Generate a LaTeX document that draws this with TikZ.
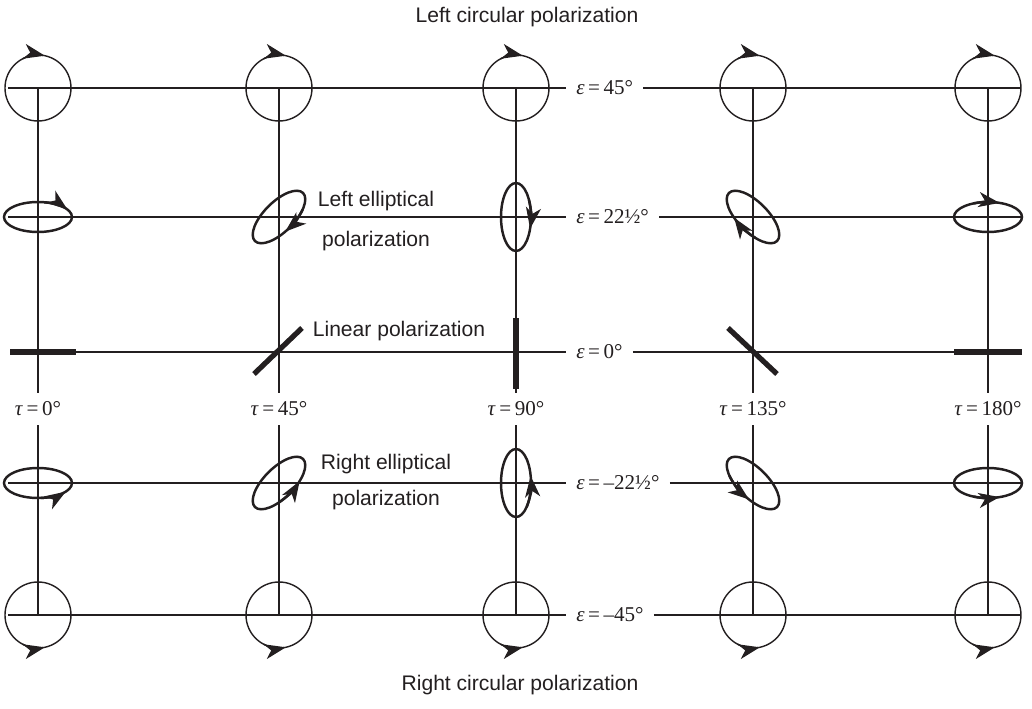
\documentclass[tikz,border=0pt]{standalone}
\usepackage{fontspec}
\setmainfont{Liberation Serif}
\setsansfont{Liberation Sans}
\usepackage{tikz}
\usetikzlibrary{arrows.meta}

\definecolor{ink}{RGB}{35, 31, 32}

\tikzset{
  gridline/.style={draw=ink, line width=0.7pt},
  circpol/.style={draw=ink, line width=0.8pt},
  ellpol/.style={draw=ink, line width=1.4pt},
  linpol/.style={draw=ink, line width=3pt},
  spin/.style={-{Stealth[length=0.42cm, width=0.3cm, inset=0.12cm]}},
  anglelabel/.style={text=ink, inner sep=0pt, font=\fontsize{12}{14}\selectfont},
  epslabel/.style={anglelabel, anchor=west, inner xsep=0.2cm},
  taulabel/.style={anglelabel, minimum height=0.64cm},
  polnote/.style={text=ink, align=center, font=\sffamily\fontsize{12}{14}\selectfont},
  pics/polcirc/.style 2 args={code={
    \draw[circpol] (0,0) circle [radius=33];
    \draw[circpol, spin] (#1:33) arc [start angle=#1, end angle=#2, radius=33];
  }},
  pics/polell/.style 2 args={code={
    \draw[ellpol] (0,0) ellipse [x radius=34, y radius=15];
    \draw[ellpol, spin] (#1:34 and 15) arc [start angle=#1, end angle=#2, x radius=34, y radius=15];
  }}
}

\begin{document}
\begin{tikzpicture}[x=0.02cm, y=0.02cm]
  \useasboundingbox (0,0) rectangle (1032,708);

  % Grid points: columns a-e (tau), rows 1-5 (epsilon)
  \coordinate (a1) at (38,620);  \coordinate (b1) at (279,620);  \coordinate (c1) at (516,620);  \coordinate (d1) at (753,620);  \coordinate (e1) at (988,620);
  \coordinate (a2) at (38,491);  \coordinate (b2) at (279,491);  \coordinate (c2) at (516,491);  \coordinate (d2) at (753,491);  \coordinate (e2) at (988,491);
  \coordinate (a3) at (38,356);  \coordinate (b3) at (279,356);  \coordinate (c3) at (516,356);  \coordinate (d3) at (753,356);  \coordinate (e3) at (988,356);
  \coordinate (a4) at (38,225);  \coordinate (b4) at (279,225);  \coordinate (c4) at (516,225);  \coordinate (d4) at (753,225);  \coordinate (e4) at (988,225);
  \coordinate (a5) at (38,93);   \coordinate (b5) at (279,93);   \coordinate (c5) at (516,93);   \coordinate (d5) at (753,93);   \coordinate (e5) at (988,93);

  % Free ends of the epsilon lines
  \coordinate (lft1) at (8,620);  \coordinate (rgt1) at (1021,620);
  \coordinate (lft2) at (8,491);  \coordinate (rgt2) at (1021,491);
  \coordinate (lft3) at (10,356); \coordinate (rgt3) at (1021,356);
  \coordinate (lft4) at (8,225);  \coordinate (rgt4) at (1021,225);
  \coordinate (lft5) at (8,93);   \coordinate (rgt5) at (1021,93);

  % Epsilon labels
  \node[epslabel] (eps1) at (566,620) {\textit{ε}\,=\,45°};
  \node[epslabel] (eps2) at (566,491) {\textit{ε}\,=\,22½°};
  \node[epslabel] (eps3) at (566,356) {\textit{ε}\,=\,0°};
  \node[epslabel] (eps4) at (566,225) {\textit{ε}\,=\,–22½°};
  \node[epslabel] (eps5) at (566,93)  {\textit{ε}\,=\,–45°};

  % Tau labels
  \node[taulabel] (tau0) at (38,299)  {\textit{τ}\,=\,0°};
  \node[taulabel] (tau1) at (279,299) {\textit{τ}\,=\,45°};
  \node[taulabel] (tau2) at (516,299) {\textit{τ}\,=\,90°};
  \node[taulabel] (tau3) at (753,299) {\textit{τ}\,=\,135°};
  \node[taulabel] (tau4) at (988,299) {\textit{τ}\,=\,180°};

  % Epsilon lines
  \draw[gridline] (lft1) -- (eps1) (eps1) -- (rgt1);
  \draw[gridline] (lft2) -- (eps2) (eps2) -- (rgt2);
  \draw[gridline] (lft3) -- (eps3) (eps3) -- (rgt3);
  \draw[gridline] (lft4) -- (eps4) (eps4) -- (rgt4);
  \draw[gridline] (lft5) -- (eps5) (eps5) -- (rgt5);

  % Tau lines
  \draw[gridline] (a1) -- (tau0) (tau0) -- (a5);
  \draw[gridline] (b1) -- (tau1) (tau1) -- (b5);
  \draw[gridline] (c1) -- (tau2) (tau2) -- (c5);
  \draw[gridline] (d1) -- (tau3) (tau3) -- (d5);
  \draw[gridline] (e1) -- (tau4) (tau4) -- (e5);

  % Left circular
  \pic at (a1) {polcirc={118}{78}};
  \pic at (b1) {polcirc={118}{78}};
  \pic at (c1) {polcirc={118}{78}};
  \pic at (d1) {polcirc={118}{78}};
  \pic at (e1) {polcirc={118}{78}};

  % Left elliptical
  \pic at (a2) {polell={80}{30}};
  \pic[rotate=45] at (b2) {polell={-50}{-100}};
  \pic[rotate=90] at (c2) {polell={-60}{-110}};
  \pic[rotate=-45] at (d2) {polell={300}{248}};
  \pic at (e2) {polell={115}{70}};

  % Linear
  \draw[linpol] ([shift={(-28,0)}]a3) -- ([shift={(38,0)}]a3);
  \draw[linpol] ([shift={(-25,-22)}]b3) -- ([shift={(23,24)}]b3);
  \draw[linpol] ([shift={(0,34)}]c3) -- ([shift={(0,-37)}]c3);
  \draw[linpol] ([shift={(-25,24)}]d3) -- ([shift={(24,-22)}]d3);
  \draw[linpol] ([shift={(-34,0)}]e3) -- ([shift={(34,0)}]e3);

  % Right elliptical
  \pic at (a4) {polell={-85}{-35}};
  \pic[rotate=45] at (b4) {polell={-115}{-62}};
  \pic[rotate=90] at (c4) {polell={-135}{-78}};
  \pic[rotate=-45] at (d4) {polell={230}{285}};
  \pic at (e4) {polell={-115}{-70}};

  % Right circular
  \pic at (a5) {polcirc={-118}{-78}};
  \pic at (b5) {polcirc={-118}{-78}};
  \pic at (c5) {polcirc={-118}{-78}};
  \pic at (d5) {polcirc={-118}{-78}};
  \pic at (e5) {polcirc={-118}{-78}};

  % Notes
  \node[polnote] (lcp) at (527,691) {Left circular polarization};
  \node[polnote] (rcp) at (520,23)  {Right circular polarization};
  \node[polnote] (lep) at (376,487) {Left elliptical\\[9pt]polarization};
  \node[polnote] (lin) at (399,377) {Linear polarization};
  \node[polnote] (rep) at (386,226) {Right elliptical\\[6pt]polarization};

\end{tikzpicture}
\end{document}
